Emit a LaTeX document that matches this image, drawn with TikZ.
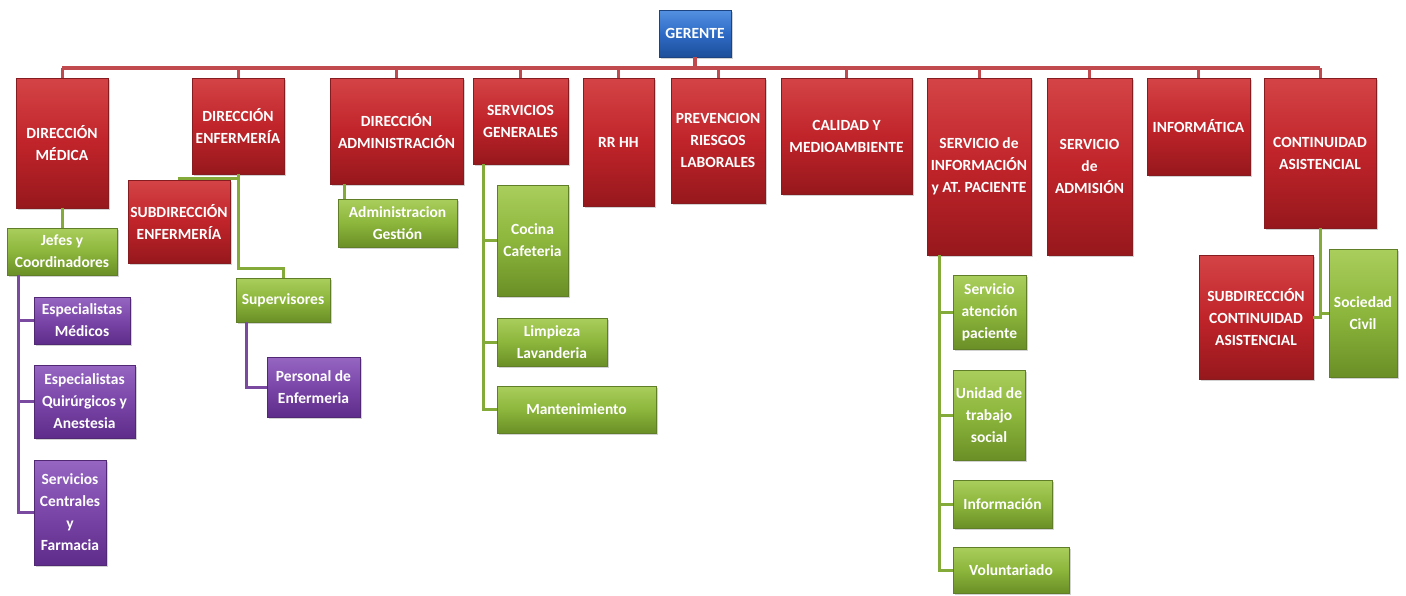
\documentclass[tikz,border=0pt]{standalone}
\usepackage{fontspec}
\setmainfont{Carlito}
\usetikzlibrary{shadows,calc}
\definecolor{rtop}{RGB}{212,68,70}
\definecolor{rmid}{RGB}{192,36,42}
\definecolor{rbot}{RGB}{150,24,28}
\definecolor{rdark}{RGB}{135,28,32}
\definecolor{gtop}{RGB}{170,206,92}
\definecolor{gmid}{RGB}{140,182,60}
\definecolor{gbot}{RGB}{106,143,38}
\definecolor{gdark}{RGB}{96,125,40}
\definecolor{ptop}{RGB}{150,102,194}
\definecolor{pmid}{RGB}{122,70,168}
\definecolor{pbot}{RGB}{94,44,138}
\definecolor{pdark}{RGB}{80,40,115}
\definecolor{btop}{RGB}{84,145,225}
\definecolor{bmid}{RGB}{46,107,198}
\definecolor{bbot}{RGB}{30,79,154}
\definecolor{bdark}{RGB}{28,68,130}
\definecolor{rlinec}{RGB}{192,74,77}
\definecolor{glinec}{RGB}{132,170,58}
\definecolor{plinec}{RGB}{122,74,160}
\begin{document}
\begin{tikzpicture}[x=1pt,y=-1pt,
  base/.style={rectangle, draw=#1, line width=0.6pt, text=white,
    font=\fontsize{15.5}{22}\selectfont\bfseries, align=center, inner sep=1pt,
    drop shadow={shadow xshift=1.5pt,shadow yshift=-1.5pt,opacity=0.35}},
  rbox/.style={base=rdark, top color=rtop, bottom color=rbot, middle color=rmid},
  gbox/.style={base=gdark, top color=gtop, bottom color=gbot, middle color=gmid},
  pbox/.style={base=pdark, top color=ptop, bottom color=pbot, middle color=pmid},
  bbox/.style={base=bdark, top color=btop, bottom color=bbot, middle color=bmid},
  sz/.style 2 args={minimum width=#1pt, minimum height=#2pt},
  rline/.style={draw=rlinec, line width=3pt},
  gline/.style={draw=glinec, line width=3pt},
  pline/.style={draw=plinec, line width=3pt}
]
\useasboundingbox[fill=white] (0,0) rectangle (1406,595);

% top level
\node[bbox, sz={72}{47}] (ger) at (695,33.5) {GERENTE};
\node[rbox, sz={92}{130}] (dm) at (62,143) {DIRECCIÓN\\MÉDICA};
\node[rbox, sz={92}{96}] (de) at (238,126) {DIRECCIÓN\\ENFERMERÍA};
\node[rbox, sz={133}{106}] (da) at (396.5,131) {DIRECCIÓN\\ADMINISTRACIÓN};
\node[rbox, sz={95}{86}] (sg) at (520.5,121) {SERVICIOS\\GENERALES};
\node[rbox, sz={71}{128}] (rr) at (618.5,142) {RR HH};
\node[rbox, sz={94}{125}] (pr) at (718,140.5) {PREVENCION\\RIESGOS\\LABORALES};
\node[rbox, sz={131}{116}] (ca) at (846.5,136) {CALIDAD Y\\MEDIOAMBIENTE};
\node[rbox, sz={104}{177}] (si) at (979,166.5) {SERVICIO de\\INFORMACIÓN\\y AT. PACIENTE};
\node[rbox, sz={85}{177}] (ad) at (1089.5,166.5) {SERVICIO\\de\\ADMISIÓN};
\node[rbox, sz={103}{97}] (inf) at (1198.5,126.5) {INFORMÁTICA};
\node[rbox, sz={112}{150}] (con) at (1320,153) {CONTINUIDAD\\ASISTENCIAL};

% second level
\node[gbox, sz={110}{47}] (jef) at (62,251.5) {Jefes y\\Coordinadores};
\node[pbox, sz={96}{47}] (em) at (82,320.5) {Especialistas\\Médicos};
\node[pbox, sz={101}{73}] (eq) at (84.5,401.5) {Especialistas\\Quirúrgicos y\\Anestesia};
\node[pbox, sz={72}{105}] (sc) at (70,512.5) {Servicios\\Centrales\\y\\Farmacia};
\node[rbox, sz={102}{83}] (sub) at (179,221.5) {SUBDIRECCIÓN\\ENFERMERÍA};
\node[gbox, sz={94}{44}] (sup) at (283,300) {Supervisores};
\node[pbox, sz={93}{60}] (per) at (313.5,387) {Personal de\\Enfermeria};
\node[gbox, sz={119}{48}] (adm) at (397.5,223) {Administracion\\Gestión};
\node[gbox, sz={71}{111}] (coc) at (532.5,240.5) {Cocina\\Cafeteria};
\node[gbox, sz={110}{48}] (lim) at (552,342) {Limpieza\\Lavanderia};
\node[gbox, sz={159}{47}] (man) at (576.5,409.5) {Mantenimiento};
\node[gbox, sz={73}{74}] (sap) at (989.5,312) {Servicio\\atención\\paciente};
\node[gbox, sz={72}{90}] (uts) at (989,415) {Unidad de\\trabajo\\social};
\node[gbox, sz={99}{48}] (info) at (1002.5,504) {Información};
\node[gbox, sz={116}{46}] (vol) at (1011,570) {Voluntariado};
\node[rbox, sz={114}{124}] (subc) at (1256,317) {SUBDIRECCIÓN\\CONTINUIDAD\\ASISTENCIAL};
\node[gbox, sz={68}{128}] (soc) at (1363,313) {Sociedad\\Civil};

% top bus
\coordinate (bus) at (0,68);
\draw[rline, line width=4pt] (ger.south) -- (ger.south |- bus);
\draw[rline, line width=4pt] (dm.north |- bus) -- (con.north |- bus);
\foreach \n in {dm,de,da,sg,rr,pr,ca,si,ad,inf,con}
  \draw[rline] (\n.north) -- (\n.north |- bus);

% branches
\draw[gline] (dm.south) -- (jef.north);
\foreach \n in {em,eq,sc}
  \draw[pline] ($(jef.south west)+(12,0)$) |- (\n.west);
\draw[gline] (de.south) -- ++(0,4) -| (sub.north);
\draw[gline] (de.south) -- ++(0,94) -| (sup.north);
\draw[pline] ($(sup.south west)+(11,0)$) |- (per.west);
\draw[gline] ($(da.south west)+(15,0)$) -- ($(adm.north west)+(7,0)$);
\foreach \n in {coc,lim,man}
  \draw[gline] ($(sg.south west)+(11,0)$) |- (\n.west);
\foreach \n in {sap,uts,info,vol}
  \draw[gline] ($(si.south west)+(13,0)$) |- (\n.west);
\draw[gline] (con.south) |- (subc.east);
\draw[gline] (con.south) |- (soc.west);
\end{tikzpicture}
\end{document}
